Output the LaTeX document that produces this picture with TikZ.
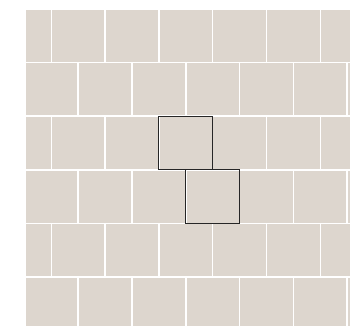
\documentclass[tikz,border=0pt]{standalone}
\usepackage{tikz}
\usetikzlibrary{positioning}

\definecolor{tilebeige}{RGB}{221,214,206}

\begin{document}
\begin{tikzpicture}[x=1pt, y=-1pt,
  tile/.style={fill=tilebeige, draw=white, line width=1.5pt},
  pick/.style={draw=black!85, line width=1.1pt, minimum width=53.8pt,
               minimum height=53.6pt, inner sep=0pt, outer sep=0pt}
]
  \useasboundingbox[fill=white] (0,0) rectangle (350,325);

  % tiled floor, rows shifted by half a tile
  \begin{scope}
    \clip (26,9) rectangle (350,325);
    \foreach \r in {0,2,4}
      \foreach \c in {0,...,6}
        \draw[tile] (-2.5+\c*53.8, 9+\r*53.6) rectangle ++(53.8,53.6);
    \foreach \r in {1,3,5}
      \foreach \c in {0,...,6}
        \draw[tile] (24.4+\c*53.8, 9+\r*53.6) rectangle ++(53.8,53.6);
  \end{scope}

  % the two marked tiles
  \node[pick] (tileA) at (185.8,143) {};
  \node[pick] (tileB) at (212.7,196.6) {};
\end{tikzpicture}
\end{document}
